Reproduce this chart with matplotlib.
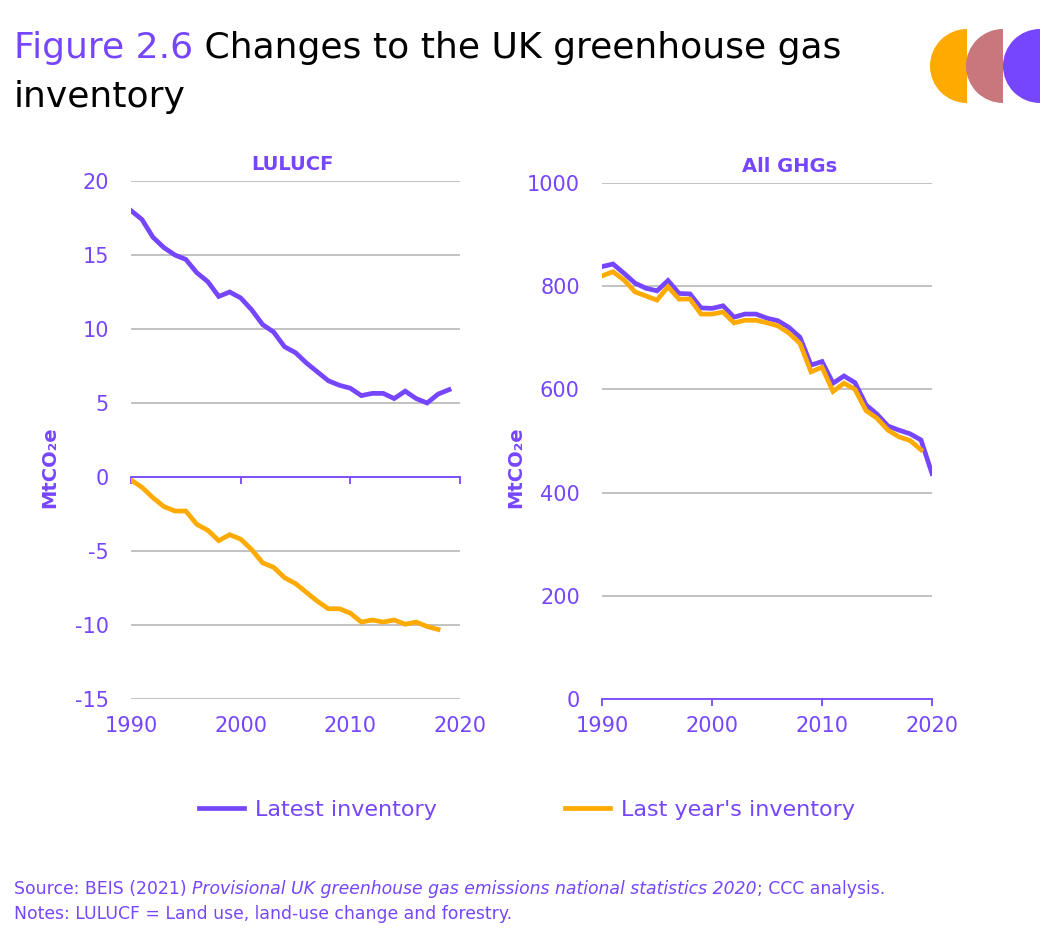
import numpy as np
import matplotlib.pyplot as plt
from matplotlib.patches import Wedge

plt.rcParams['font.family'] = ['DejaVu Sans']
plt.rcParams['axes.unicode_minus'] = False

PURPLE = '#7646FF'
ORANGE = '#FFAA00'
ROSE = '#C8787C'
GRID = '#BDBDBD'

# LULUCF (MtCO2e)
lulucf_years_latest = list(range(1990, 2020))
lulucf_latest = [18.0, 17.4, 16.2, 15.5, 15.0, 14.7, 13.8, 13.2, 12.2, 12.5,
                 12.1, 11.3, 10.3, 9.8, 8.8, 8.4, 7.7, 7.1, 6.5, 6.2,
                 6.0, 5.5, 5.65, 5.65, 5.3, 5.8, 5.3, 5.0, 5.6, 5.9]
lulucf_years_last = list(range(1990, 2019))
lulucf_last = [-0.2, -0.7, -1.4, -2.0, -2.3, -2.3, -3.2, -3.6, -4.3, -3.9,
               -4.2, -4.9, -5.8, -6.1, -6.8, -7.2, -7.8, -8.4, -8.9, -8.9,
               -9.2, -9.8, -9.66, -9.8, -9.66, -9.95, -9.8, -10.1, -10.3]

# All GHGs (MtCO2e)
ghg_years_latest = list(range(1990, 2021))
ghg_latest = [838, 843, 825, 806, 796, 791, 811, 786, 785, 758,
              757, 762, 740, 746, 746, 738, 733, 720, 701, 647,
              654, 612, 626, 613, 570, 552, 529, 521, 514, 502, 437]
ghg_years_last = list(range(1990, 2020))
ghg_last = [820, 828, 812, 789, 781, 773, 799, 775, 775, 746,
            746, 750, 729, 734, 734, 729, 723, 709, 689, 634,
            643, 596, 612, 600, 559, 544, 521, 508, 501, 483]

year_ticks = [1990, 2000, 2010, 2020]
lulucf_ticks = [-15, -10, -5, 0, 5, 10, 15, 20]
ghg_ticks = [0, 200, 400, 600, 800, 1000]

W, H = 1059, 939
fig = plt.figure(figsize=(W / 100, H / 100), dpi=100)


def style_axes(ax):
    for s in ['left', 'right', 'top']:
        ax.spines[s].set_visible(False)
    ax.spines['bottom'].set_color(PURPLE)
    ax.spines['bottom'].set_linewidth(1.3)
    ax.grid(axis='y', color=GRID, linewidth=1.3)
    ax.set_axisbelow(True)
    ax.tick_params(axis='y', length=0, pad=16, labelcolor=PURPLE, labelsize=15)
    ax.tick_params(axis='x', direction='out', length=5, width=1.3, color=PURPLE,
                   labelcolor=PURPLE, labelsize=15)
    ax.set_xlim(1990, 2020)
    ax.set_xticks(year_ticks)


# left panel: LULUCF
ax1 = fig.add_axes([131 / W, 1 - 699 / H, 329 / W, 518 / H])
style_axes(ax1)
ax1.set_ylim(-15, 20)
ax1.set_yticks(lulucf_ticks)
ax1.spines['bottom'].set_position(('data', 0))
ax1.tick_params(axis='x', labelbottom=False)
sec = ax1.secondary_xaxis('bottom')
sec.set_xticks(year_ticks)
sec.tick_params(length=0, pad=12, labelcolor=PURPLE, labelsize=15)
sec.spines['bottom'].set_visible(False)
ax1.plot(lulucf_years_latest, lulucf_latest, color=PURPLE, lw=3.4, solid_joinstyle='miter')
ax1.plot(lulucf_years_last, lulucf_last, color=ORANGE, lw=3.4, solid_joinstyle='miter')

# right panel: all GHGs
ax2 = fig.add_axes([602 / W, 1 - 699 / H, 330 / W, 516 / H])
style_axes(ax2)
ax2.set_ylim(0, 1000)
ax2.set_yticks(ghg_ticks)
ax2.tick_params(axis='x', pad=7)
l1, = ax2.plot(ghg_years_latest, ghg_latest, color=PURPLE, lw=3.4, solid_joinstyle='miter')
l2, = ax2.plot(ghg_years_last, ghg_last, color=ORANGE, lw=3.4, solid_joinstyle='miter')

# panel titles and y labels
fig.text(292 / W, 1 - 164 / H, 'LULUCF', color=PURPLE, fontsize=14,
         fontweight='bold', ha='center', va='center')
fig.text(790 / W, 1 - 166 / H, 'All GHGs', color=PURPLE, fontsize=14,
         fontweight='bold', ha='center', va='center')
for xp in [50, 516]:
    fig.text(xp / W, 1 - 467 / H, 'MtCO₂e', color=PURPLE, fontsize=14,
             fontweight='bold', rotation=90, ha='center', va='center')

# legend
fig.legend([l1, l2], ['Latest inventory', "Last year's inventory"],
           loc='center', bbox_to_anchor=(527 / W, 1 - 810 / H), ncol=2,
           frameon=False, fontsize=16, handlelength=2.0, handletextpad=0.5,
           columnspacing=5.8, labelcolor=PURPLE)

# title
t1 = fig.text(14 / W, 1 - 58 / H, 'Figure 2.6', color=PURPLE, fontsize=26,
              va='baseline', ha='left')
plt.annotate(' Changes to the UK greenhouse gas', xy=(1, 0), xycoords=t1,
             va='bottom', ha='left', fontsize=26, color='black')
fig.text(14 / W, 1 - 107 / H, 'inventory', color='black', fontsize=26,
         va='baseline', ha='left')

# source notes
s1 = fig.text(14 / W, 1 - 894 / H, 'Source: BEIS (2021) ', color=PURPLE,
              fontsize=12.4, va='baseline', ha='left')
s2 = plt.annotate('Provisional UK greenhouse gas emissions national statistics 2020',
                  xy=(1, 0), xycoords=s1, va='bottom', ha='left',
                  fontsize=12.4, color=PURPLE, style='italic')
plt.annotate('; CCC analysis.', xy=(1, 0), xycoords=s2, va='bottom', ha='left',
             fontsize=12.4, color=PURPLE)
fig.text(14 / W, 1 - 919 / H, 'Notes: LULUCF = Land use, land-use change and forestry.',
         color=PURPLE, fontsize=12.4, va='baseline', ha='left')

# logo: three half discs
logo = fig.add_axes([0, 0, 1, 1], zorder=-1)
logo.set_xlim(0, W)
logo.set_ylim(H, 0)
logo.axis('off')
for cx, col in [(967, ORANGE), (1003, ROSE), (1040, PURPLE)]:
    logo.add_patch(Wedge((cx, 66), 37, 90, 270, color=col, lw=0))

fig.savefig('out.png', dpi=100)
